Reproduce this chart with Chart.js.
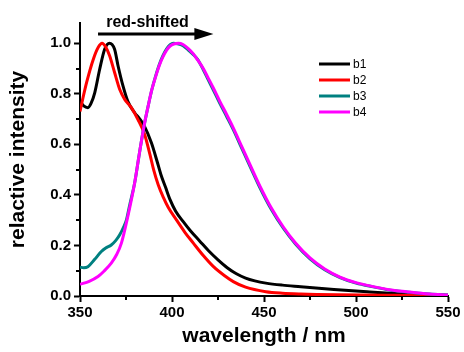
<!DOCTYPE html>
<html>
<head>
<meta charset="utf-8">
<script src="https://cdn.jsdelivr.net/npm/chart.js@4.4.1/dist/chart.umd.min.js"></script>
<style>
  html, body { margin: 0; padding: 0; background: #fff; }
  #wrap { width: 464px; height: 352px; }
</style>
</head>
<body>
<div id="wrap"><canvas id="spectra"></canvas></div>
<script>
  // emission spectra (wavelength in nm, relative intensity)
  var b1Wl  = [350, 352, 354.3, 356, 358, 360.7, 363.4, 366, 368.8, 370.7, 373.4, 376, 379.7, 382.5, 385, 388.8, 392, 394, 396.5, 399, 402, 406, 410, 415, 420, 425, 430, 435, 440, 445, 451, 460, 470, 488, 506, 524, 540, 550];
  var b1Int = [0.77, 0.752, 0.745, 0.762, 0.804, 0.897, 0.976, 1.0, 0.976, 0.91, 0.83, 0.77, 0.725, 0.70, 0.672, 0.606, 0.53, 0.48, 0.43, 0.38, 0.335, 0.295, 0.258, 0.218, 0.178, 0.143, 0.112, 0.088, 0.071, 0.06, 0.051, 0.043, 0.037, 0.026, 0.017, 0.009, 0.005, 0.003];

  var b2Wl  = [350, 351.5, 353.6, 357.2, 360, 362, 364, 366.1, 368.8, 371.6, 374.3, 377.9, 381.5, 385.1, 388, 390, 392.5, 395.3, 398, 402.5, 407, 411.6, 417, 422.4, 428.6, 433.3, 440, 451, 460, 470, 490, 520, 550];
  var b2Int = [0.73, 0.78, 0.845, 0.936, 0.985, 1.0, 0.985, 0.95, 0.884, 0.817, 0.778, 0.745, 0.698, 0.64, 0.56, 0.50, 0.44, 0.39, 0.35, 0.30, 0.252, 0.209, 0.16, 0.117, 0.08, 0.057, 0.035, 0.017, 0.011, 0.008, 0.005, 0.003, 0.002];

  var b3Wl  = [350, 352, 354.3, 358, 361.6, 364, 367, 369.5, 371.6, 373.5, 375.2, 377, 379.7, 382.4, 385, 387, 389, 391, 393, 395, 397, 399, 400.7, 403, 406, 409, 411.6, 414, 417, 419.5, 422.4, 426, 429.7, 433.3, 438, 442.4, 447.8, 454, 460.5, 467, 475, 483, 491.3, 500, 509.4, 518, 527.5, 540, 550];
  var b3Int = [0.114, 0.112, 0.116, 0.145, 0.176, 0.19, 0.202, 0.22, 0.242, 0.27, 0.30, 0.36, 0.447, 0.57, 0.68, 0.75, 0.815, 0.868, 0.914, 0.95, 0.977, 0.994, 1.0, 0.998, 0.99, 0.972, 0.955, 0.935, 0.895, 0.858, 0.816, 0.762, 0.71, 0.658, 0.583, 0.513, 0.428, 0.342, 0.268, 0.207, 0.147, 0.104, 0.073, 0.051, 0.036, 0.024, 0.016, 0.008, 0.004];

  var b4Wl  = [350, 355, 359.8, 363, 367, 370, 372.5, 376, 379.7, 382.4, 385, 387, 389, 391, 393, 395, 397, 399, 401, 403.5, 406, 409, 411.6, 414, 417, 419.5, 422.4, 426, 429.7, 433.3, 438, 442.4, 447.8, 454, 460.5, 467, 475, 483, 491.3, 500, 509.4, 518, 527.5, 540, 550];
  var b4Int = [0.046, 0.058, 0.077, 0.098, 0.13, 0.165, 0.209, 0.315, 0.447, 0.57, 0.68, 0.75, 0.815, 0.865, 0.91, 0.945, 0.972, 0.989, 0.997, 1.0, 0.995, 0.978, 0.958, 0.933, 0.90, 0.865, 0.824, 0.77, 0.718, 0.665, 0.59, 0.52, 0.435, 0.348, 0.273, 0.211, 0.151, 0.107, 0.075, 0.053, 0.037, 0.025, 0.017, 0.008, 0.004];

  var xTicks = [350, 400, 450, 500, 550];
  var yTicks = [0.0, 0.2, 0.4, 0.6, 0.8, 1.0];
  var xMinor = [375, 425, 475, 525];
  var yMinor = [0.1, 0.3, 0.5, 0.7, 0.9];

  var FONT = '"Liberation Sans", Arial, sans-serif';

  function toPoints(xs, ys) {
    return xs.map(function (x, i) { return { x: x, y: ys[i] }; });
  }

  function series(label, xs, ys, color, order) {
    return {
      label: label,
      data: toPoints(xs, ys),
      borderColor: color,
      backgroundColor: color,
      borderWidth: 3,
      pointRadius: 0,
      fill: false,
      cubicInterpolationMode: 'monotone',
      order: order
    };
  }

  // minor ticks, the "red-shifted" arrow and the legend
  var extras = {
    id: 'extras',
    afterDraw: function (chart) {
      var ctx = chart.ctx;
      var xs = chart.scales.x, ys = chart.scales.y;
      ctx.save();
      ctx.strokeStyle = '#000';
      ctx.lineWidth = 2;
      xMinor.forEach(function (v) {
        var px = Math.round(xs.getPixelForValue(v));
        ctx.beginPath();
        ctx.moveTo(px, ys.bottom);
        ctx.lineTo(px, ys.bottom + 4);
        ctx.stroke();
      });
      yMinor.forEach(function (v) {
        var py = Math.round(ys.getPixelForValue(v));
        ctx.beginPath();
        ctx.moveTo(xs.left, py);
        ctx.lineTo(xs.left - 4, py);
        ctx.stroke();
      });

      // arrow
      var ax0 = xs.getPixelForValue(359.8), ax1 = xs.getPixelForValue(422.5);
      var ay = ys.getPixelForValue(1.036);
      ctx.lineWidth = 3;
      ctx.beginPath();
      ctx.moveTo(ax0, ay);
      ctx.lineTo(ax1 - 14, ay);
      ctx.stroke();
      ctx.fillStyle = '#000';
      ctx.beginPath();
      ctx.moveTo(ax1, ay);
      ctx.lineTo(ax1 - 19, ay - 6);
      ctx.lineTo(ax1 - 19, ay + 6);
      ctx.closePath();
      ctx.fill();
      ctx.font = 'bold 16px ' + FONT;
      ctx.textAlign = 'center';
      ctx.textBaseline = 'alphabetic';
      ctx.fillText('red-shifted', 147.5, 27);

      // legend
      ctx.font = '12px ' + FONT;
      ctx.textAlign = 'left';
      ctx.textBaseline = 'middle';
      chart.data.datasets.forEach(function (ds, i) {
        var ly = 64 + i * 16;
        ctx.strokeStyle = ds.borderColor;
        ctx.lineWidth = 3;
        ctx.beginPath();
        ctx.moveTo(319, ly);
        ctx.lineTo(350, ly);
        ctx.stroke();
        ctx.fillStyle = '#000';
        ctx.fillText(ds.label, 353, ly + 1);
      });
      ctx.restore();
    }
  };

  window.onload = function () {
    var ctx = document.getElementById('spectra').getContext('2d');
    new Chart(ctx, {
      type: 'line',
      data: {
        datasets: [
          series('b1', b1Wl, b1Int, '#000000', 4),
          series('b2', b2Wl, b2Int, '#ff0000', 3),
          series('b3', b3Wl, b3Int, '#008080', 2),
          series('b4', b4Wl, b4Int, '#ff00ff', 1)
        ]
      },
      options: {
        responsive: true,
        maintainAspectRatio: false,
        animation: false,
        layout: { padding: { top: 23, right: 16, left: 0, bottom: 0 } },
        plugins: { legend: { display: false }, tooltip: { enabled: false } },
        scales: {
          x: {
            type: 'linear',
            min: 350,
            max: 550,
            afterFit: function (s) { s.height = 56; },
            afterBuildTicks: function (s) { s.ticks = xTicks.map(function (v) { return { value: v }; }); },
            ticks: {
              color: '#000',
              font: { family: FONT, size: 15, weight: 'bold' },
              padding: 2,
              maxRotation: 0,
              callback: function (v) { return String(v); }
            },
            grid: { drawOnChartArea: false, drawTicks: true, tickLength: 6, tickWidth: 2, tickColor: '#000' },
            border: { display: true, color: '#000', width: 2 },
            title: {
              display: true,
              text: 'wavelength / nm',
              color: '#000',
              font: { family: FONT, size: 21, weight: 'bold' },
              padding: { top: 0, bottom: 3 }
            }
          },
          y: {
            min: 0,
            max: 1.08,
            afterFit: function (s) { s.width = 80; },
            afterBuildTicks: function (s) { s.ticks = yTicks.map(function (v) { return { value: v }; }); },
            ticks: {
              color: '#000',
              font: { family: FONT, size: 15, weight: 'bold' },
              padding: 3,
              callback: function (v) { return v.toFixed(1); }
            },
            grid: { drawOnChartArea: false, drawTicks: true, tickLength: 6, tickWidth: 2, tickColor: '#000' },
            border: { display: true, color: '#000', width: 2 },
            title: {
              display: true,
              text: 'relactive intensity',
              color: '#000',
              font: { family: FONT, size: 21, weight: 'bold' },
              padding: { top: 6, bottom: 0 }
            }
          }
        }
      },
      plugins: [extras]
    });
  };
</script>
</body>
</html>
